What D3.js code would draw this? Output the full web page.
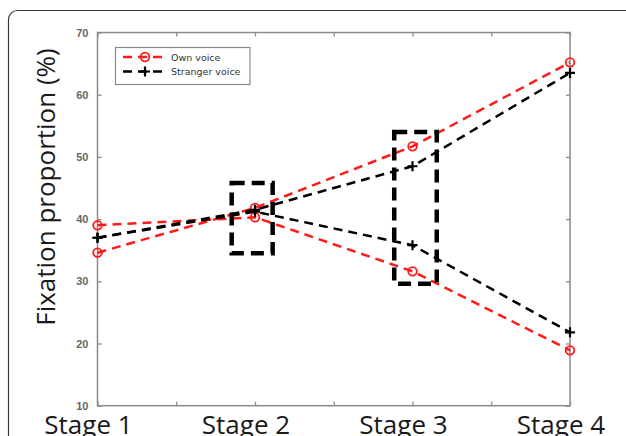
<!DOCTYPE html>
<html>
<head>
<meta charset="utf-8">
<script src="https://cdn.jsdelivr.net/npm/d3@7"></script>
<style>
  html, body { margin: 0; padding: 0; background: #fff; }
  svg { display: block; }
</style>
</head>
<body>
<svg id="chart" width="626" height="436"></svg>
<script>
// ---- data ----
const stages = [1, 2, 3, 4];
const stageLabels = ["Stage 1", "Stage 2", "Stage 3", "Stage 4"];
const ownVoiceUp = [34.6, 41.8, 51.7, 65.2];
const ownVoiceDown = [39.0, 40.3, 31.6, 18.9];
const strangerVoiceUp = [37.0, 41.5, 48.5, 63.5];
const strangerVoiceDown = [37.0, 41.2, 35.8, 21.8];
const yTicks = [10, 20, 30, 40, 50, 60, 70];
const xTicks = [1, 1.5, 2, 2.5, 3, 3.5, 4];
const legendLabels = ["Own voice", "Stranger voice"];
// highlighted regions (data units): [x0, x1, y0, y1]
const boxX0 = [1.852, 2.884];
const boxX1 = [2.112, 3.154];
const boxY0 = [34.5, 29.6];
const boxY1 = [45.8, 54.0];

// ---- layout ----
const svg = d3.select("#chart");
const L = 97.5, R = 570, T = 32.5, B = 405.7;
const x = d3.scaleLinear().domain([1, 4]).range([L, R]);
const y = d3.scaleLinear().domain([10, 70]).range([B, T]);

const RED = "#ff1a1a", BLACK = "#000";
const axisColor = "#8a8a8a";

// outer frame
svg.append("rect")
  .attr("x", 8.5).attr("y", 10.5)
  .attr("width", 660).attr("height", 460)
  .attr("rx", 9).attr("ry", 9)
  .attr("fill", "none").attr("stroke", "#3a3a3a").attr("stroke-width", 1.2);

// plot box
svg.append("rect")
  .attr("x", L).attr("y", T).attr("width", R - L).attr("height", B - T)
  .attr("fill", "none").attr("stroke", axisColor).attr("stroke-width", 1.5);

// axes with inward ticks
const axL = d3.axisLeft(y).tickValues(yTicks).tickSize(-4).tickPadding(9);
const axR = d3.axisRight(y).tickValues(yTicks).tickSize(-4).tickFormat("");
const axB = d3.axisBottom(x).tickValues(xTicks).tickSize(-4).tickFormat("");
const axT = d3.axisTop(x).tickValues(xTicks).tickSize(-4).tickFormat("");

function styleAxis(g) {
  g.select(".domain").remove();
  g.selectAll(".tick line").attr("stroke", axisColor).attr("stroke-width", 1.3);
  g.selectAll(".tick text")
    .attr("fill", "#666").style("font-family", "'Liberation Sans', Arial, sans-serif")
    .style("font-weight", "bold")
    .style("font-size", "11px");
}
svg.append("g").attr("transform", `translate(${L},0)`).call(axL).call(styleAxis);
svg.append("g").attr("transform", `translate(${R},0)`).call(axR).call(styleAxis);
svg.append("g").attr("transform", `translate(0,${B})`).call(axB).call(styleAxis);
svg.append("g").attr("transform", `translate(0,${T})`).call(axT).call(styleAxis);

// stage labels
svg.append("g").selectAll("text").data(stages).join("text")
  .attr("x", d => x(d) - 9).attr("y", 434)
  .attr("text-anchor", "middle")
  .style("font-family", "'Open Sans', sans-serif").style("font-size", "26px")
  .attr("fill", "#1a1a1a")
  .text((d, i) => stageLabels[i]);

// y-axis title
svg.append("text")
  .attr("transform", "translate(55,187) rotate(-90)")
  .attr("text-anchor", "middle")
  .style("font-family", "'Open Sans', sans-serif").style("font-size", "26px")
  .attr("fill", "#1a1a1a")
  .text("Fixation proportion (%)");

// series lines
const line = d3.line().x((d, i) => x(stages[i])).y(d => y(d));
const series = [
  { vals: ownVoiceUp, color: RED, marker: "circle" },
  { vals: ownVoiceDown, color: RED, marker: "circle" },
  { vals: strangerVoiceUp, color: BLACK, marker: "plus" },
  { vals: strangerVoiceDown, color: BLACK, marker: "plus" }
];

series.forEach(s => {
  svg.append("path").datum(s.vals).attr("d", line)
    .attr("fill", "none").attr("stroke", s.color)
    .attr("stroke-width", 2.5).attr("stroke-dasharray", "9,6");
});

function drawMarker(g, type, cx, cy, color) {
  if (type === "circle") {
    g.append("circle").attr("cx", cx).attr("cy", cy).attr("r", 4.3)
      .attr("fill", "none").attr("stroke", color).attr("stroke-width", 1.8);
  } else {
    g.append("path").attr("d", `M${cx - 5},${cy}H${cx + 5}M${cx},${cy - 5}V${cy + 5}`)
      .attr("stroke", color).attr("stroke-width", 2.2).attr("fill", "none");
  }
}
series.forEach(s => {
  const g = svg.append("g");
  s.vals.forEach((v, i) => drawMarker(g, s.marker, x(stages[i]), y(v), s.color));
});

// highlight boxes
svg.append("g").selectAll("rect").data(boxX0).join("rect")
  .attr("x", (d, i) => x(boxX0[i]))
  .attr("y", (d, i) => y(boxY1[i]))
  .attr("width", (d, i) => x(boxX1[i]) - x(boxX0[i]))
  .attr("height", (d, i) => y(boxY0[i]) - y(boxY1[i]))
  .attr("fill", "none").attr("stroke", BLACK)
  .attr("stroke-width", 4.5).attr("stroke-dasharray", "13,7");

// legend
const lg = svg.append("g");
lg.append("rect").attr("x", 115.5).attr("y", 47.5).attr("width", 134.5).attr("height", 37)
  .attr("fill", "#fff").attr("stroke", "#8a8a8a").attr("stroke-width", 1.2);
const legendColors = [RED, BLACK];
const legendMarkers = ["circle", "plus"];
legendLabels.forEach((lab, i) => {
  const ly = 57 + i * 14.5;
  lg.append("line").attr("x1", 123).attr("x2", 167).attr("y1", ly).attr("y2", ly)
    .attr("stroke", legendColors[i]).attr("stroke-width", 2.4)
    .attr("stroke-dasharray", "9,6");
  drawMarker(lg, legendMarkers[i], 145, ly, legendColors[i]);
  lg.append("text").attr("x", 171).attr("y", ly + 3.5)
    .style("font-family", "DejaVu Sans, sans-serif").style("font-size", "9.5px")
    .attr("fill", "#333").text(lab);
});
</script>
</body>
</html>
